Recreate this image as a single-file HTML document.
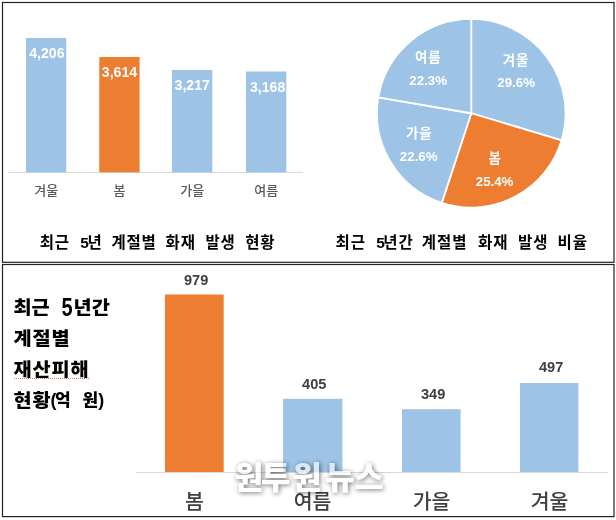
<!DOCTYPE html>
<html lang="ko"><head><meta charset="utf-8"><title>계절별 화재 발생 현황</title>
<style>
html,body{margin:0;padding:0;background:#fff;}
body{width:616px;height:520px;overflow:hidden;}
svg{display:block;}
text{font-family:"Liberation Sans","Noto Sans CJK KR",sans-serif;}
.tv{font-size:14.1px;font-weight:bold;fill:#fff;text-anchor:middle;}
.tc{font-size:13px;font-weight:500;fill:#595959;text-anchor:middle;}
.bv{font-size:14.6px;font-weight:bold;fill:#404040;text-anchor:middle;}
.bc{font-size:20.5px;font-weight:500;fill:#404040;text-anchor:middle;}
.pl{font-size:13.5px;font-weight:bold;fill:#fff;text-anchor:middle;letter-spacing:0.9px;}
.pp{font-size:13.3px;font-weight:bold;fill:#fff;text-anchor:middle;}
.tt{font-size:15.5px;font-weight:bold;fill:#000;}
.sd{font-size:18.6px;font-weight:900;fill:#000;letter-spacing:0.8px;}
.s5{font-size:25px;font-weight:bold;fill:#000;}
.sp{font-size:17px;font-weight:900;fill:#000;}
.sq{font-size:18px;font-weight:bold;fill:#000;}
.wm{font-size:32px;font-weight:900;fill:#fff;}
.wms{font-size:32px;font-weight:900;fill:#000;fill-opacity:.85;}
</style></head><body>
<svg width="616" height="520" viewBox="0 0 616 520">
<defs><filter id="bl" filterUnits="userSpaceOnUse" x="215" y="445" width="190" height="65"><feGaussianBlur stdDeviation="2.6"/></filter></defs>
<rect x="0" y="0" width="616" height="520" fill="#fff"/>
<rect x="2.5" y="2.5" width="611.5" height="259.8" fill="#fff" stroke="#222" stroke-width="1.2"/>
<rect x="2.5" y="264.5" width="611.5" height="252.1" fill="#fff" stroke="#222" stroke-width="1.2"/>
<line x1="8.5" y1="172.5" x2="302.5" y2="172.5" stroke="#d9d9d9" stroke-width="1"/>
<rect x="26" y="38" width="40.3" height="134.3" fill="#9dc3e6"/>
<text x="46.900000000000006" y="58.1" class="tv">4,206</text>
<text x="46.2" y="195" class="tc">겨울</text>
<rect x="99.3" y="57" width="40.3" height="115.30000000000001" fill="#ed7d31"/>
<text x="119.5" y="77.1" class="tv">3,614</text>
<text x="119.5" y="195" class="tc">봄</text>
<rect x="172" y="70" width="40.3" height="102.30000000000001" fill="#9dc3e6"/>
<text x="192.2" y="90.1" class="tv">3,217</text>
<text x="192.2" y="195" class="tc">가을</text>
<rect x="246" y="71.5" width="40.3" height="100.80000000000001" fill="#9dc3e6"/>
<text x="267.59999999999997" y="91.6" class="tv">3,168</text>
<text x="266.2" y="195" class="tc">여름</text>

<text x="39.7" y="248.3" class="tt" style="letter-spacing:0.8px">최근</text><text x="80.2" y="248.3" class="tt" style="letter-spacing:0.8px">5</text><text x="87.6" y="248.3" class="tt" style="letter-spacing:0.8px">년</text><text x="111.5" y="248.3" class="tt" style="letter-spacing:0.8px">계절별</text><text x="165.6" y="248.3" class="tt" style="letter-spacing:0.8px">화재</text><text x="205.5" y="248.3" class="tt" style="letter-spacing:0.8px">발생</text><text x="245.2" y="248.3" class="tt" style="letter-spacing:0.8px">현황</text>
<path d="M471.25,113.25 L471.25,18.95 A94.3,94.3 0 0 1 561.59,140.30 Z" fill="#9dc3e6" stroke="#fff" stroke-width="1.8" stroke-linejoin="round"/>
<path d="M471.25,113.25 L561.59,140.30 A94.3,94.3 0 0 1 441.80,202.83 Z" fill="#ed7d31" stroke="#fff" stroke-width="1.8" stroke-linejoin="round"/>
<path d="M471.25,113.25 L441.80,202.83 A94.3,94.3 0 0 1 378.28,97.46 Z" fill="#9dc3e6" stroke="#fff" stroke-width="1.8" stroke-linejoin="round"/>
<path d="M471.25,113.25 L378.28,97.46 A94.3,94.3 0 0 1 471.25,18.95 Z" fill="#9dc3e6" stroke="#fff" stroke-width="1.8" stroke-linejoin="round"/>
<text x="516" y="64.6" class="pl">겨울</text><text x="516.2" y="87.2" class="pp">29.6%</text>
<text x="495.2" y="162.8" class="pl">봄</text><text x="494.6" y="186.2" class="pp">25.4%</text>
<text x="419.2" y="138.3" class="pl">가을</text><text x="418.7" y="161.4" class="pp">22.6%</text>
<text x="428.2" y="61.6" class="pl">여름</text><text x="428.2" y="85" class="pp">22.3%</text>
<text x="335.4" y="248.3" class="tt" style="letter-spacing:1.0px">최근</text><text x="376.3" y="248.3" class="tt" style="letter-spacing:1.0px">5</text><text x="383.3" y="248.3" class="tt" style="letter-spacing:1.0px">년간</text><text x="421.7" y="248.3" class="tt" style="letter-spacing:1.0px">계절별</text><text x="478.1" y="248.3" class="tt" style="letter-spacing:1.0px">화재</text><text x="517.9" y="248.3" class="tt" style="letter-spacing:1.0px">발생</text><text x="557.6" y="248.3" class="tt" style="letter-spacing:1.0px">비율</text>
<line x1="136" y1="472.5" x2="608" y2="472.5" stroke="#d9d9d9" stroke-width="1"/>
<rect x="165" y="294.5" width="58.7" height="177.5" fill="#ed7d31"/>
<text x="196.1" y="284.6" class="bv">979</text>
<text x="194.5" y="508.7" class="bc">봄</text>
<rect x="283.1" y="398.8" width="59.3" height="73.19999999999999" fill="#9dc3e6"/>
<text x="314.20000000000005" y="389.0" class="bv">405</text>
<text x="312.6" y="508.7" class="bc">여름</text>
<rect x="402" y="409.2" width="58.6" height="62.80000000000001" fill="#9dc3e6"/>
<text x="433.1" y="398.9" class="bv">349</text>
<text x="431.5" y="508.7" class="bc">가을</text>
<rect x="520" y="383" width="58.4" height="89" fill="#9dc3e6"/>
<text x="551.1" y="371.8" class="bv">497</text>
<text x="549.5" y="508.7" class="bc">겨울</text>

<g transform="translate(13.6,0) scale(1.06,1)">
<text x="0" y="314" class="sd" style="letter-spacing:-0.3px">최근</text>
<text x="56.5" y="314" class="sd" style="letter-spacing:0.1px">년간</text>
<text x="0" y="345" class="sd">계절별</text>
<text x="0" y="375.8" class="sd">재산피해</text>
<text x="0" y="407.3" class="sd">현황</text>
</g>
<text transform="translate(61.6,315.9) scale(0.8,1)" class="s5">5</text>
<line x1="14" y1="378.5" x2="90" y2="378.5" stroke="#e07a5a" stroke-width="1" stroke-dasharray="1 1"/>
<text x="50.6" y="406" class="sq">(</text><text x="55" y="406.3" class="sp">억</text><text x="82.6" y="406.3" class="sp">원</text><text x="98.3" y="406" class="sq">)</text>
<g opacity="0.64"><g filter="url(#bl)"><text x="235.0" y="490" class="wms">원</text><text x="262.0" y="490" class="wms">투</text><text x="293.3" y="490" class="wms">원</text><text x="326.3" y="490" class="wms">뉴</text><text x="355.3" y="490" class="wms">스</text></g>
<text x="234" y="489" class="wm">원</text><text x="261" y="489" class="wm">투</text><text x="292.3" y="489" class="wm">원</text><text x="325.3" y="489" class="wm">뉴</text><text x="354.3" y="489" class="wm">스</text></g>
</svg>
</body></html>
